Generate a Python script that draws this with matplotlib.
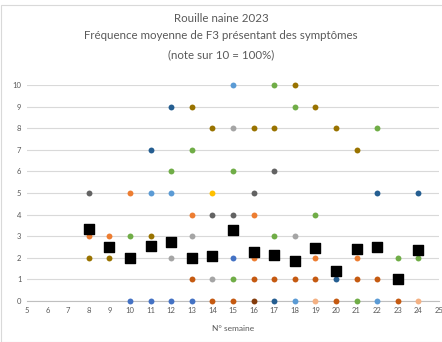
import matplotlib.pyplot as plt
from matplotlib.patches import Rectangle

# one series per colour in the reference (weeks, notes)
series = {
    "gris fonce": ([8, 14, 15, 16, 17], [5, 4, 4, 5, 6]),
    "gris": ([12, 13, 14, 14, 15, 18], [2, 3, 1, 2, 8, 3]),
    "orange": ([8, 9, 10, 13, 16, 16, 19, 21], [3, 3, 5, 4, 4, 2, 2, 2]),
    "orange fonce": ([13, 14, 15, 16, 17, 18, 19, 20, 21, 22, 23],
                     [1, 0, 0, 1, 1, 1, 1, 0, 1, 1, 0]),
    "brun": ([16], [0]),
    "or": ([8, 9, 11, 13, 14, 16, 17, 18, 19, 20, 21],
           [2, 2, 3, 9, 8, 8, 8, 10, 9, 8, 7]),
    "vert": ([10, 12, 13, 15, 15, 17, 17, 18, 19, 21, 22, 23, 24],
             [3, 6, 7, 6, 1, 10, 3, 9, 4, 0, 8, 2, 2]),
    "bleu clair": ([11, 12, 15, 18, 22], [5, 5, 10, 0, 0]),
    "bleu": ([10, 11, 12, 13, 15], [0, 0, 0, 0, 2]),
    "bleu fonce": ([11, 12, 17, 20, 22, 24], [7, 9, 0, 1, 5, 5]),
    "jaune": ([14], [5]),
    "orange clair": ([19, 24], [0, 0]),
}
colors = {
    "gris fonce": "#636363", "gris": "#a5a5a5", "orange": "#ed7d31",
    "orange fonce": "#c55a11", "brun": "#843c0c", "or": "#997300",
    "vert": "#70ad47", "bleu clair": "#5b9bd5", "bleu": "#4472c4",
    "bleu fonce": "#255e91", "jaune": "#ffc000", "orange clair": "#f4b183",
}

mean_weeks = [8, 9, 10, 11, 12, 13, 14, 15, 16, 17, 18, 19, 20, 21, 22, 23, 24]
mean_values = [3.35, 2.5, 2.0, 2.55, 2.75, 2.0, 2.1, 3.3, 2.25, 2.15, 1.85,
               2.45, 1.4, 2.4, 2.5, 1.0, 2.35]

plt.rcParams['font.family'] = ['Lato', 'DejaVu Sans']
fig = plt.figure(figsize=(4.42, 3.42), dpi=100)
ax = fig.add_axes([0.061, 0.12, 0.932, 0.631])

for name, (w, v) in series.items():
    ax.scatter(w, v, s=18, c=colors[name], zorder=3, clip_on=False,
               linewidths=0)
ax.scatter(mean_weeks, mean_values, s=45, marker="s", c="black", zorder=4,
           clip_on=False)

ax.set_xlim(5, 25)
ax.set_ylim(0, 10)
ax.set_xticks(range(5, 26))
ax.set_yticks(range(0, 11))
ax.grid(axis="y", color="#d9d9d9", linewidth=0.8)
ax.set_axisbelow(True)
for s in ["left", "right", "top"]:
    ax.spines[s].set_visible(False)
ax.spines["bottom"].set_color("#bfbfbf")
ax.tick_params(length=0, labelsize=5.5, labelcolor="#595959", pad=4)
ax.set_xlabel("N° semaine", fontsize=6, color="#595959", labelpad=8)

fig.text(0.5, 0.947, "Rouille naine 2023", ha="center", va="center",
         fontsize=8.3, color="#595959")
fig.text(0.5, 0.895, "Fréquence moyenne de F3 présentant des symptômes",
         ha="center", va="center", fontsize=8.3, color="#595959")
fig.text(0.5, 0.84, "(note sur 10 = 100%)", ha="center", va="center",
         fontsize=8.3, color="#595959")

fig.patches.append(Rectangle((0.002, 0.0), 1.2, 0.985, transform=fig.transFigure,
                             fill=False, edgecolor="#d9d9d9", linewidth=0.8))

fig.savefig("out.png", dpi=100)
